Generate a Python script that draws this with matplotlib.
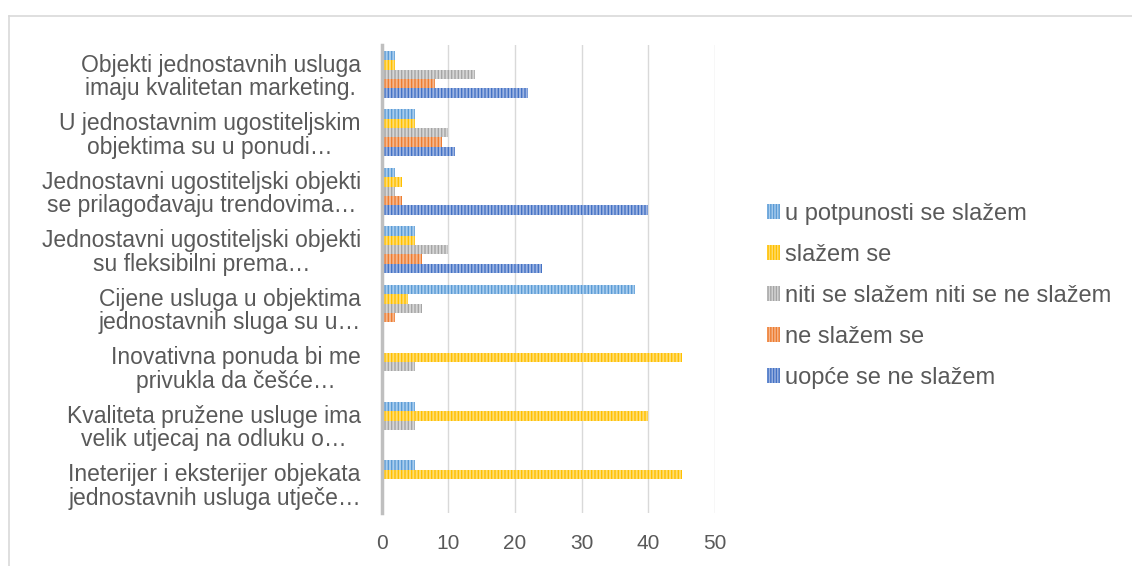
import matplotlib.pyplot as plt
from matplotlib.patches import Rectangle
from matplotlib.lines import Line2D

plt.rcParams['font.family'] = ['Liberation Sans', 'DejaVu Sans']
plt.rcParams['hatch.linewidth'] = 1.0

# categories listed bottom -> top (as Excel draws them)
categories = [
    'Ineterijer i eksterijer objekata\njednostavnih usluga utječe…',
    'Kvaliteta pružene usluge ima\nvelik utjecaj na odluku o…',
    'Inovativna ponuda bi me\nprivukla da češće…',
    'Cijene usluga u objektima\njednostavnih sluga su u…',
    'Jednostavni ugostiteljski objekti\nsu fleksibilni prema…',
    'Jednostavni ugostiteljski objekti\nse prilagođavaju trendovima…',
    'U jednostavnim ugostiteljskim\nobjektima su u ponudi…',
    'Objekti jednostavnih usluga\nimaju kvalitetan marketing.',
]

uopce = [0, 0, 0, 0, 24, 40, 11, 22]
ne_slazem = [0, 0, 0, 2, 6, 3, 9, 8]
niti = [0, 5, 5, 6, 10, 2, 10, 14]
slazem = [45, 40, 45, 4, 5, 3, 5, 2]
potpuno = [5, 5, 0, 38, 5, 2, 5, 2]

series_names = ['uopće se ne slažem', 'ne slažem se', 'niti se slažem niti se ne slažem',
                'slažem se', 'u potpunosti se slažem']
series_vals = [uopce, ne_slazem, niti, slazem, potpuno]
main_colors = ['#4472C4', '#ED7D31', '#A5A5A5', '#FFC000', '#5B9BD5']
light_colors = ['#9DB4E2', '#F6B78E', '#D6D6D6', '#FFDD73', '#A9CDEE']

txt = '#595959'

fig = plt.figure(figsize=(11.32, 5.66), dpi=100)
ax = fig.add_axes([381.7 / 1132, 53 / 566, (715 - 381.7) / 1132, 468 / 566])

n = len(series_vals)
h = 0.8 / n
y = list(range(len(categories)))
for i, (vals, name) in enumerate(zip(series_vals, series_names)):
    pos = [k - 0.4 + h * (i + 0.5) for k in y]
    ax.barh(pos, vals, height=h, color=light_colors[i], edgecolor=main_colors[i],
            linewidth=0, hatch='|||||', label=name, zorder=3)

ax.set_xlim(0, 50)
ax.set_ylim(-0.5, len(categories) - 0.5)
ax.set_xticks([0, 10, 20, 30, 40, 50])
ax.set_yticks(y)
ax.set_yticklabels(categories)
ax.grid(axis='x', color='#D9D9D9', linewidth=1.0, zorder=0)
ax.tick_params(axis='both', length=0, colors=txt)
ax.tick_params(axis='y', labelsize=16.5, pad=15)
ax.tick_params(axis='x', labelsize=15, pad=15)
for lbl in ax.get_yticklabels():
    lbl.set_multialignment('center')
    lbl.set_linespacing(1.02)

for s in ['top', 'right', 'bottom']:
    ax.spines[s].set_visible(False)
ax.spines['left'].set_color('#BFBFBF')
ax.spines['left'].set_linewidth(2.5)
ax.spines['left'].set_zorder(4)

# legend (order as in the original: top entry = u potpunosti)
handles = []
for i in reversed(range(n)):
    handles.append(Rectangle((0, 0), 1, 1, facecolor=light_colors[i], edgecolor=main_colors[i],
                             linewidth=0, hatch='||||||'))
labels = list(reversed(series_names))
leg = fig.legend(handles, labels, loc='center left', bbox_to_anchor=(767 / 1132, 1 - 296 / 566),
                 frameon=False, fontsize=17, handlelength=0.55, handleheight=0.6,
                 handletextpad=0.2, labelspacing=0.8, borderpad=0, borderaxespad=0)
for t in leg.get_texts():
    t.set_color(txt)

# outer chart border
fig.add_artist(Line2D([8.5 / 1132, 1], [1 - 15.5 / 566, 1 - 15.5 / 566], color='#D9D9D9', linewidth=1.2))
fig.add_artist(Line2D([8.5 / 1132, 8.5 / 1132], [0, 1 - 15.5 / 566], color='#D9D9D9', linewidth=1.2))

fig.savefig('out.png', dpi=100)
